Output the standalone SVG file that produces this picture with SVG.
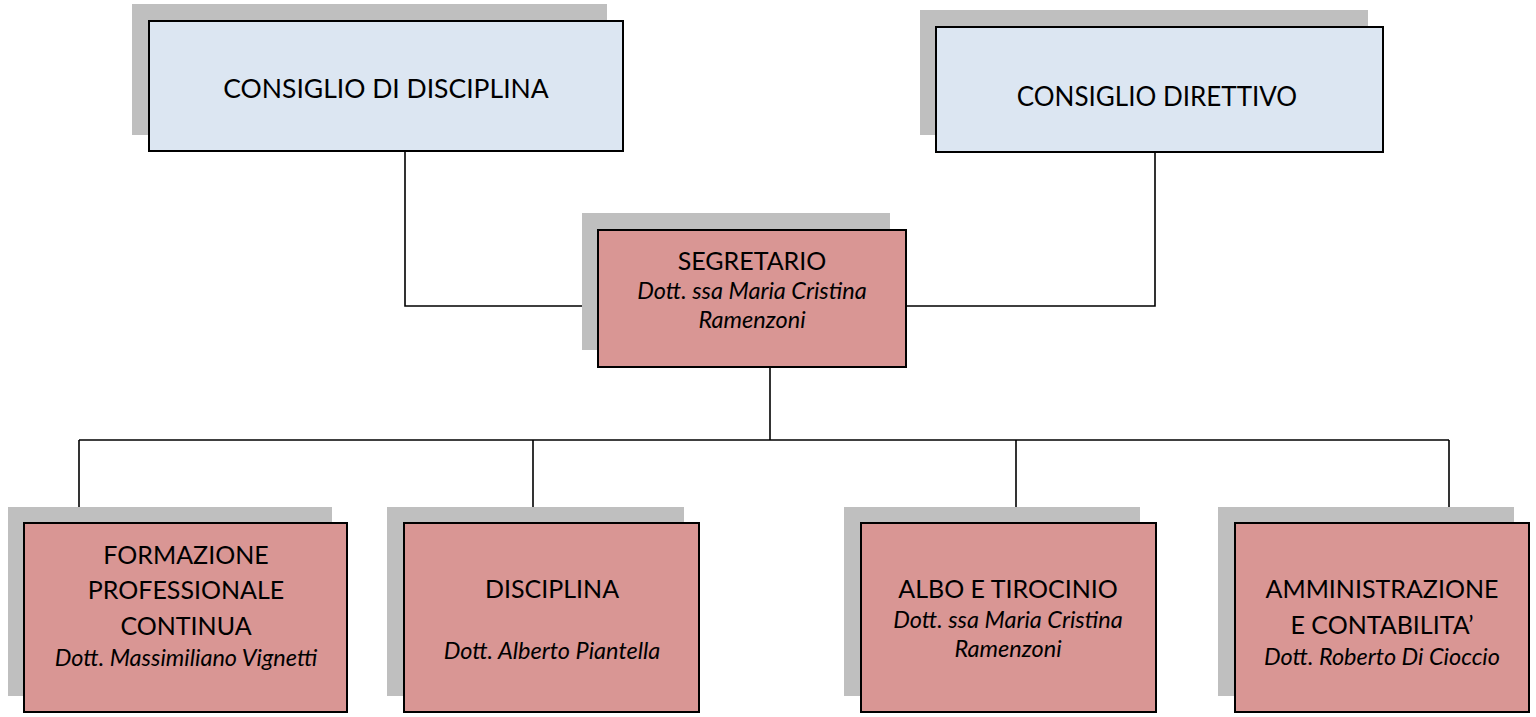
<svg xmlns="http://www.w3.org/2000/svg" width="1536" height="717" viewBox="0 0 1536 717">
<style>
.sh{fill:#BFBFBF}
.blue{fill:#DCE6F2;stroke:#000;stroke-width:2}
.pink{fill:#D99694;stroke:#000;stroke-width:2}
.t{font-family:Lato,"Liberation Sans",sans-serif;fill:#000;text-anchor:middle}
.big{font-size:26.5px}
.mid{font-size:25px}
.it{font-size:23.5px;font-style:italic}
.ln{fill:none;stroke:#000;stroke-width:1.6}
</style>
<rect width="1536" height="717" fill="#fff"/>
<g id="connectors">
<polyline class="ln" points="405,151 405,306 598,306"/>
<polyline class="ln" points="1155,152 1155,306 906,306"/>
<line class="ln" x1="770" y1="367" x2="770" y2="440"/>
<line class="ln" x1="79" y1="440" x2="1449" y2="440"/>
<line class="ln" x1="79" y1="440" x2="79" y2="523"/>
<line class="ln" x1="533" y1="440" x2="533" y2="523"/>
<line class="ln" x1="1016" y1="440" x2="1016" y2="523"/>
<line class="ln" x1="1449" y1="440" x2="1449" y2="523"/>
</g>
<g id="consiglio-disciplina">
<rect class="sh" x="132" y="4" width="475" height="131"/>
<rect class="blue" x="149" y="21" width="474" height="130"/>
<text class="t big" x="386" y="98">CONSIGLIO DI DISCIPLINA</text>
</g>
<g id="consiglio-direttivo">
<rect class="sh" x="920" y="10" width="448" height="125"/>
<rect class="blue" x="936" y="27" width="447" height="125"/>
<text class="t big" style="font-size:26px" x="1157" y="106">CONSIGLIO DIRETTIVO</text>
</g>
<g id="segretario">
<rect class="sh" x="582" y="213" width="308" height="137"/>
<rect class="pink" x="598" y="230" width="308" height="137"/>
<text class="t mid" x="752" y="270">SEGRETARIO</text>
<text class="t it" x="752" y="299">Dott. ssa Maria Cristina</text>
<text class="t it" x="752" y="328">Ramenzoni</text>
</g>
<g id="formazione">
<rect class="sh" x="8" y="507" width="324" height="189"/>
<rect class="pink" x="24" y="523" width="323" height="189"/>
<text class="t mid" x="186" y="564">FORMAZIONE</text>
<text class="t mid" x="186" y="599">PROFESSIONALE</text>
<text class="t mid" x="186" y="635">CONTINUA</text>
<text class="t it" x="186" y="666">Dott. Massimiliano Vignetti</text>
</g>
<g id="disciplina">
<rect class="sh" x="387" y="507" width="297" height="189"/>
<rect class="pink" x="404" y="523" width="295" height="189"/>
<text class="t mid" x="552" y="598">DISCIPLINA</text>
<text class="t it" x="552" y="659">Dott. Alberto Piantella</text>
</g>
<g id="albo">
<rect class="sh" x="844" y="507" width="296" height="189"/>
<rect class="pink" x="861" y="523" width="295" height="189"/>
<text class="t mid" x="1008" y="598">ALBO E TIROCINIO</text>
<text class="t it" x="1008" y="628">Dott. ssa Maria Cristina</text>
<text class="t it" x="1008" y="657">Ramenzoni</text>
</g>
<g id="amministrazione">
<rect class="sh" x="1218" y="507" width="296" height="189"/>
<rect class="pink" x="1235" y="523" width="294" height="189"/>
<text class="t mid" x="1382" y="598">AMMINISTRAZIONE</text>
<text class="t mid" x="1382" y="634">E CONTABILITA’</text>
<text class="t it" x="1382" y="665">Dott. Roberto Di Cioccio</text>
</g>
</svg>
